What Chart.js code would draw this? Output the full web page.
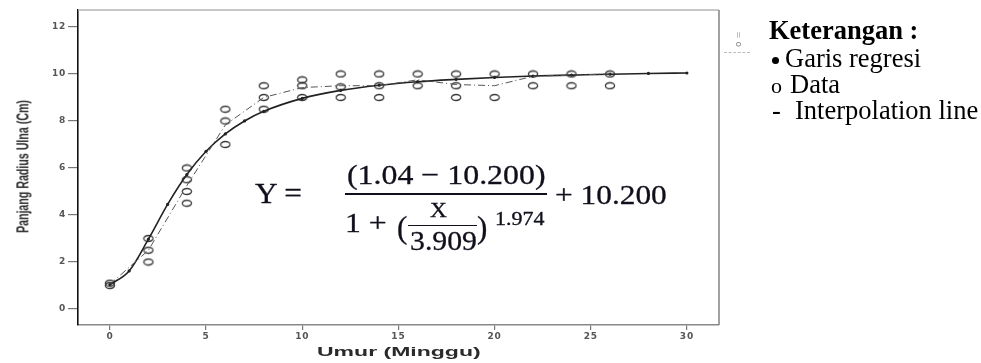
<!DOCTYPE html>
<html>
<head>
<meta charset="utf-8">
<script src="https://cdn.jsdelivr.net/npm/chart.js@4.4.1/dist/chart.umd.min.js"></script>
<style>
  html, body { margin: 0; padding: 0; background: #fff; width: 981px; height: 363px; overflow: hidden; }
  #wrap { position: relative; width: 981px; height: 363px; }
  #chart { position: absolute; left: 0; top: 0; filter: blur(0.35px); }
  .t { position: absolute; white-space: nowrap; transform-origin: 0 0; }
  .ax { font-family: "Liberation Sans", Arial, sans-serif; font-weight: bold; color: #2a2a2a; filter: blur(0.3px); }
  .eq { font-family: "Liberation Serif", "Times New Roman", serif; color: #10101c; line-height: 1; -webkit-text-stroke: 0.3px #10101c; }
  .bar { position: absolute; background: #10101c; }
  .lg { font-family: "Liberation Serif", "Times New Roman", serif; color: #000; font-size: 26.5px; line-height: 1; }
  .dot { position: absolute; width: 7px; height: 7px; border-radius: 50%; background: #000; }
  .mini { font-family: "DejaVu Sans", sans-serif; font-size: 9px; color: #888; filter: blur(0.3px); }
</style>
</head>
<body>
<div id="wrap">
  <canvas id="chart" width="981" height="363"></canvas>

  <!-- axis titles -->
  <div class="t ax" id="ytitle" style="font-size:12px;line-height:12px;">Panjang Radius Ulna (Cm)</div>
  <div class="t ax" id="xtitle" style="font-size:12px;line-height:12px;">Umur (Minggu)</div>

  <!-- clipped series key of the plot -->
  <div class="t mini" style="left:733px;top:47px;transform:rotate(-90deg);">o =</div>
  <div style="position:absolute;left:724px;top:52px;width:26px;border-top:1px dashed #bbb;"></div>

  <!-- fitted equation -->
  <div class="t eq" data-l="255" data-w="47" data-c="193" style="font-size:30px">Y =</div>
  <div class="t eq" data-l="347" data-w="198" data-c="175" style="font-size:28px">(1.04 − 10.200)</div>
  <div class="bar" style="left:345px;top:193px;width:202px;height:1.6px"></div>
  <div class="t eq" data-l="555" data-w="112" data-c="195" style="font-size:28px">+ 10.200</div>
  <div class="t eq" data-l="345" data-w="42" data-c="223" style="font-size:28px">1 +</div>
  <div class="t eq" data-l="397" data-w="10" data-c="227" style="font-size:31px">(</div>
  <div class="t eq" data-l="430" data-w="17" data-c="210" style="font-size:22px">X</div>
  <div class="bar" style="left:408px;top:224.5px;width:69px;height:1.4px"></div>
  <div class="t eq" data-l="410" data-w="67" data-c="241" style="font-size:28px">3.909</div>
  <div class="t eq" data-l="477" data-w="10" data-c="227" style="font-size:31px">)</div>
  <div class="t eq" data-l="495" data-w="50" data-c="219" style="font-size:18px">1.974</div>

  <!-- key -->
  <div class="t lg" style="left:769px;top:17px;font-weight:bold;">Keterangan :</div>
  <div class="dot" style="left:772px;top:57px;"></div>
  <div class="t lg" style="left:785px;top:45px;">Garis regresi</div>
  <div class="t lg" style="left:771px;top:75px;font-size:22px;">o</div>
  <div class="t lg" style="left:790px;top:71px;">Data</div>
  <div class="t lg" style="left:772px;top:97px;">-</div>
  <div class="t lg" style="left:795px;top:97px;">Interpolation line</div>
</div>

<script>
// Observed ulna radius length (cm) by age (weeks)
const obsWeek   = [0, 0, 2, 2, 2, 4, 4, 4, 4, 6, 6, 6, 8, 8, 8, 10, 10, 10, 12, 12, 12, 14, 14, 14, 16, 16, 18, 18, 18, 20, 20, 22, 22, 24, 24, 26, 26];
const obsLength = [1.0, 1.1, 3.0, 2.5, 2.0, 6.0, 5.5, 5.0, 4.5, 8.5, 8.0, 7.0, 9.5, 9.0, 8.5, 9.75, 9.5, 9.0, 10.0, 9.45, 9.0, 10.0, 9.5, 9.0, 10.0, 9.5, 10.0, 9.5, 9.0, 10.0, 9.0, 10.0, 9.5, 10.0, 9.5, 10.0, 9.5];

// Regression curve
const regWeek   = [0, 1, 2, 3, 4, 5, 6, 7, 8, 10, 12, 14, 16, 18, 20, 22, 24, 26, 28, 30];
const regLength = [1.04, 1.62, 2.97, 4.45, 5.72, 6.71, 7.45, 8.00, 8.41, 8.96, 9.30, 9.52, 9.67, 9.77, 9.85, 9.91, 9.95, 9.99, 10.02, 10.04];

// Interpolation line through the weekly means
const meanWeek   = [0, 2, 4, 6, 8, 10, 12, 14, 16, 18, 20, 22, 24, 26];
const meanLength = [1.05, 2.5, 5.25, 7.83, 9.0, 9.42, 9.5, 9.5, 9.75, 9.55, 9.5, 9.9, 9.95, 10.0];

// Axis ticks
const xTicks = [0, 5, 10, 15, 20, 25, 30];
const yTicks = [0, 2, 4, 6, 8, 10, 12];

const pts = (xs, ys) => xs.map((x, i) => ({ x: x, y: ys[i] }));

// open elliptical marker for observations
const ring = document.createElement('canvas');
ring.width = 12; ring.height = 9;
(function () {
  const c = ring.getContext('2d');
  c.strokeStyle = '#3a3a3a';
  c.lineWidth = 1.3;
  c.beginPath();
  c.ellipse(6, 4.5, 4.6, 3.0, 0, 0, Math.PI * 2);
  c.stroke();
})();

// plot frame (top and right edges) and wide tick lettering
const frame = {
  id: 'frame',
  beforeDraw(chart) { chart.ctx.letterSpacing = '0.8px'; },
  afterDraw(chart) {
    const a = chart.chartArea, ctx = chart.ctx;
    ctx.save();
    ctx.lineWidth = 1.6;
    ctx.strokeStyle = '#b4b4b4';
    ctx.beginPath();
    ctx.moveTo(a.left, a.top); ctx.lineTo(a.right, a.top);
    ctx.stroke();
    ctx.strokeStyle = '#8a8a8a';
    ctx.beginPath();
    ctx.moveTo(a.right, a.top); ctx.lineTo(a.right, a.bottom);
    ctx.stroke();
    ctx.restore();
    ctx.letterSpacing = '0px';
  }
};

const tickFont = { family: 'DejaVu Sans', weight: 'bold', size: 9 };

new Chart(document.getElementById('chart'), {
  type: 'scatter',
  data: {
    datasets: [
      {
        label: 'Interpolation line',
        data: pts(meanWeek, meanLength),
        showLine: true,
        borderColor: '#555',
        borderWidth: 1,
        borderDash: [7, 3, 1, 3],
        pointRadius: 0
      },
      {
        label: 'Garis regresi',
        data: pts(regWeek, regLength),
        showLine: true,
        borderColor: '#222',
        borderWidth: 1.6,
        cubicInterpolationMode: 'monotone',
        pointRadius: 1.6,
        pointBackgroundColor: '#222',
        pointBorderWidth: 0
      },
      {
        label: 'Data',
        data: pts(obsWeek, obsLength),
        pointStyle: ring,
        pointRadius: 5
      }
    ]
  },
  options: {
    responsive: false,
    animation: false,
    devicePixelRatio: 1,
    layout: { padding: { top: 10, right: 262, left: 0, bottom: 0 } },
    plugins: { legend: { display: false }, tooltip: { enabled: false } },
    scales: {
      x: {
        type: 'linear',
        min: -1.66, max: 31.67,
        afterBuildTicks: s => { s.ticks = xTicks.map(v => ({ value: v })); },
        afterFit: s => { s.height = 38; },
        grid: { drawOnChartArea: false, drawTicks: true, tickLength: 5, color: '#777', lineWidth: 1.2 },
        border: { color: '#888', width: 1.6 },
        ticks: { font: tickFont, color: '#555', padding: 1, maxRotation: 0 }
      },
      y: {
        type: 'linear',
        min: -0.68, max: 12.72,
        afterBuildTicks: s => { s.ticks = yTicks.map(v => ({ value: v })); },
        afterFit: s => { s.width = 78; },
        grid: { drawOnChartArea: false, drawTicks: true, tickLength: 10, color: '#777', lineWidth: 1.2 },
        border: { color: '#111', width: 1.6 },
        ticks: { font: tickFont, color: '#555', padding: 2 }
      }
    }
  },
  plugins: [frame]
});

// place equation pieces: left edge, width and vertical centre
document.querySelectorAll('.eq').forEach(el => {
  const l = +el.dataset.l, w = +el.dataset.w, c = +el.dataset.c;
  const fs = parseFloat(el.style.fontSize);
  const sx = w / el.offsetWidth;
  el.style.left = l + 'px';
  el.style.top = (c - fs / 2) + 'px';
  el.style.transform = 'scaleX(' + sx + ')';
});

// axis titles, stretched wide like the tick lettering
(function () {
  const xt = document.getElementById('xtitle');
  const sx = 163 / xt.offsetWidth;
  xt.style.left = '317px';
  xt.style.top = '346px';
  xt.style.transform = 'scale(' + sx + ',1)';

  const yt = document.getElementById('ytitle');
  const sl = 133 / yt.offsetWidth;
  yt.style.left = '15px';
  yt.style.top = '233px';
  yt.style.transform = 'rotate(-90deg) scale(' + sl + ',1.3)';
})();
</script>
</body>
</html>
